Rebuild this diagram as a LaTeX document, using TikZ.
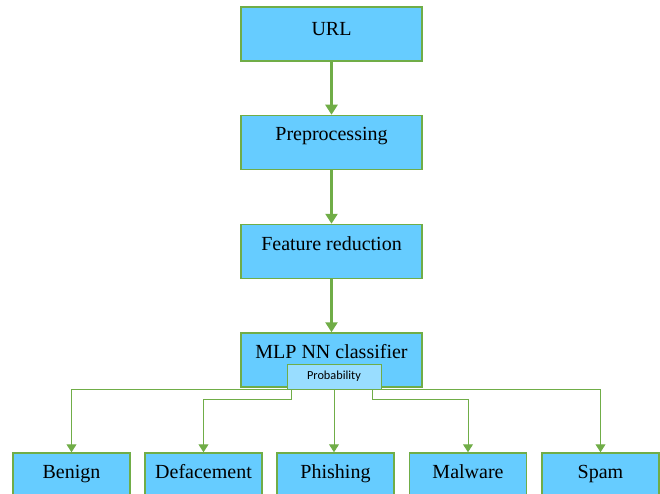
\documentclass[tikz,border=0pt]{standalone}
\usepackage{fontspec}
\setmainfont{Liberation Serif}
\newfontfamily\probfont{Carlito}
\usetikzlibrary{arrows.meta}
\definecolor{boxfill}{HTML}{66CCFF}
\definecolor{probfill}{HTML}{99DDFF}
\definecolor{grn}{HTML}{70AD47}
\begin{document}
\begin{tikzpicture}[x=1pt,y=-1pt,
  box/.style={draw=grn, line width=1.5pt, fill=boxfill, minimum width=181pt, minimum height=54pt, inner sep=0pt, text height=25.5pt, text depth=28.5pt, font=\fontsize{20}{24}\selectfont},
  smallbox/.style={box, minimum width=117pt, minimum height=42pt, text depth=16.5pt},
  probbox/.style={draw=grn, line width=1pt, fill=probfill, minimum width=94pt, minimum height=25pt, inner sep=0pt, font=\probfont\fontsize{12.3}{14}\selectfont},
  bigarrow/.style={draw=grn, line width=2.5pt, -{Triangle[width=12pt,length=10pt]}},
  thinarrow/.style={draw=grn, line width=1pt, -{Triangle[width=10pt,length=8pt]}}
]
\useasboundingbox (0,0) rectangle (660,494);
\clip (0,0) rectangle (660,494);
\node[box, text height=29pt, text depth=25pt] (url) at (331.5,34) {URL};
\node[box] (pre) at (331.5,142.5) {Preprocessing};
\node[box] (feat) at (331.5,251.5) {Feature reduction};
\node[box] (mlp) at (331.5,360) {MLP NN classifier};
\node[probbox] (prob) at (334,376.5) {Probability};
\node[smallbox] (benign) at (71.5,474) {Benign};
\node[smallbox] (deface) at (203.5,474) {Defacement};
\node[smallbox] (phish) at (335.5,474) {Phishing};
\node[smallbox] (malware) at (468,474) {Malware};
\node[smallbox] (spam) at (600.5,474) {Spam};
\draw[bigarrow] (url) -- (pre);
\draw[bigarrow] (pre) -- (feat);
\draw[bigarrow] (feat) -- (mlp);
\draw[thinarrow] (prob.south west) -| (benign.north);
\draw[thinarrow] ([xshift=5pt]prob.south west) -- ++(0,10) -| (deface.north);
\draw[thinarrow] (prob.south) -- (prob.south |- phish.north);
\draw[thinarrow] ([xshift=-9pt]prob.south east) -- ++(0,10) -| (malware.north);
\draw[thinarrow] (prob.south east) -| (spam.north);
\end{tikzpicture}
\end{document}
